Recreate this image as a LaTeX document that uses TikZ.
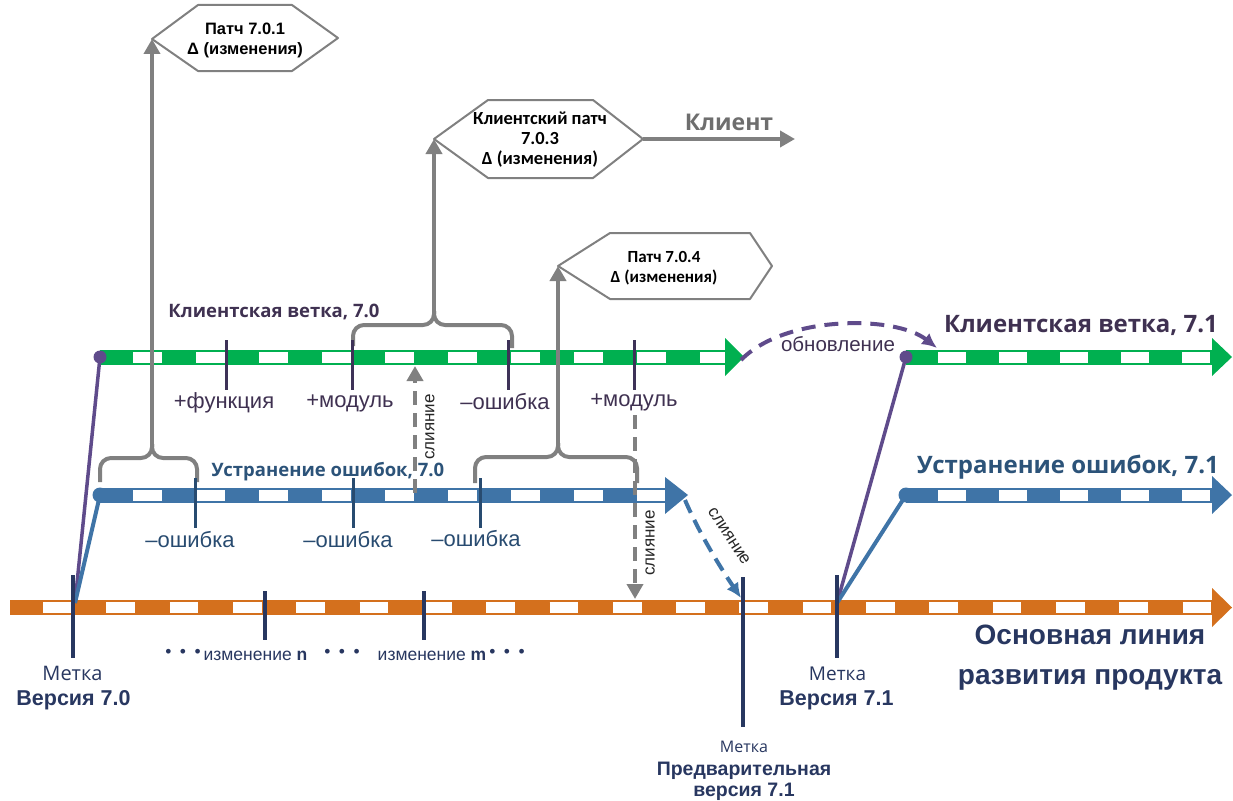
\documentclass[tikz,border=0pt]{standalone}
\usepackage{fontspec}
\setmainfont{Liberation Sans}
\newfontfamily\osans{Open Sans}
\newfontfamily\carl{Carlito}
\usetikzlibrary{arrows.meta}
\definecolor{cgreen}{HTML}{00B050}
\definecolor{cblue}{HTML}{3F74A7}
\definecolor{corange}{HTML}{D4701D}
\definecolor{cpurple}{HTML}{5F4B8B}
\definecolor{cpurpletxt}{HTML}{3F3151}
\definecolor{cbluetxt}{HTML}{2C5379}
\definecolor{cnavy}{HTML}{283760}
\definecolor{cgray}{HTML}{808080}
\definecolor{cgraytxt}{HTML}{6E6E6E}
\definecolor{ctickp}{HTML}{3E3258}
\definecolor{ctickb}{HTML}{284B70}
\newcommand\fsz[2]{\fontsize{#1}{#2}\selectfont}
% band: color, start, end, white on, white off, phase
\newcommand\tlband[6]{%
  \draw[#1, line width=15pt] (#2) -- (#3);
  \draw[white, line width=11pt, dash pattern=on #4pt off #5pt, dash phase=#6pt] (#2) -- (#3);}
\begin{document}
\begin{tikzpicture}[x=1pt,y=-1pt,line join=round,
  brace/.style={cgray, line width=4pt, rounded corners=11pt},
  stemarrow/.style={cgray, line width=4pt, -{Triangle[length=15pt,width=16pt]}},
  mergearrow/.style={cgray, line width=4pt, dash pattern=on 14pt off 8pt, -{Triangle[length=15pt,width=16pt]}},
  hexline/.style={cgray, line width=2pt, fill=white},
  hextext/.style={align=center, inner sep=0pt},
  ptick/.style={ctickp, line width=3pt},
  btick/.style={ctickb, line width=3pt},
  mtick/.style={cnavy, line width=3.5pt},
  plabel/.style={text=cpurpletxt, font=\fsz{22}{24}, inner sep=0pt},
  blabel/.style={text=ctickb, font=\fsz{22}{24}, inner sep=0pt},
  mergelabel/.style={text=black!85, font=\fsz{17}{19}, inner sep=0pt},
  title/.style={font=\osans\bfseries\fsz{18.5}{22}, inner sep=0pt},
  bigtitle/.style={font=\osans\bfseries\fsz{24}{28}, inner sep=0pt},
  navytext/.style={text=cnavy, inner sep=0pt, align=center}
]
\useasboundingbox (0,0) rectangle (1233,800);

% ---------- band coordinates ----------
\coordinate (m0) at (10,607.5);   \coordinate (m1) at (1212,607.5);
\coordinate (g0) at (100,357);    \coordinate (g1) at (725,357);
\coordinate (b0) at (100,495);    \coordinate (b1) at (665,495);
\coordinate (g70) at (906,357);   \coordinate (g71) at (1212,357);
\coordinate (b70) at (906,495);   \coordinate (b71) at (1212,495);

% ---------- bands ----------
\tlband{corange}{m0}{m1}{28.65}{34.65}{30.15}
\fill[corange] (1212,588) -- (1232,607.5) -- (1212,627) -- cycle;
\tlband{cgreen}{g0}{g1}{28.5}{34.5}{30}
\fill[cgreen] (725,338) -- (744,357) -- (725,376) -- cycle;
\tlband{cblue}{b0}{b1}{28.5}{34.5}{30}
\fill[cblue] (665,477) -- (688,495) -- (665,514) -- cycle;
\tlband{cgreen}{g70}{g71}{27.5}{33.5}{29}
\fill[cgreen] (1212,338) -- (1232,357) -- (1212,376) -- cycle;
\tlband{cblue}{b70}{b71}{27.5}{33.5}{29}
\fill[cblue] (1212,476) -- (1232,495) -- (1212,514) -- cycle;

% ---------- branch connectors ----------
\coordinate (v70) at (75,603);
\coordinate (v71) at (837,603);
\draw[cpurple, line width=3.5pt] (v70) -- (g0);
\draw[cblue, line width=4pt] (v70) -- (b0);
\draw[cpurple, line width=3.5pt] (v71) -- (g70);
\draw[cblue, line width=4pt] (v71) -- (b70);
\fill[cpurple] (g0) circle (6.5pt);
\fill[cpurple] (g70) circle (6.5pt);
\fill[cblue] (b0) circle (7.5pt);
\fill[cblue] (b70) circle (7.5pt);

% ---------- hexagons ----------
\coordinate (h1L) at (152,39);
\coordinate (h2L) at (434,139);
\coordinate (h2R) at (643,139);
\coordinate (h3L) at (558,266);

% braces and stems
\draw[brace] (100,482) |- (152,458) -- (152,444);
\draw[brace] (197,482) |- (152,458) -- (152,444);
\draw[stemarrow] (152,446) -- (h1L);
\draw[brace] (353,346) |- (434,325) -- (434,311);
\draw[brace] (512,348) |- (434,325) -- (434,311);
\draw[stemarrow] (434,313) -- (h2L);
\draw[brace] (475,483) |- (558,457) -- (558,443);
\draw[brace] (637,483) |- (558,457) -- (558,443);
\draw[stemarrow] (558,445) -- (h3L);

\draw[hexline] (h1L) -- (198,5) -- (292,5) -- (338,38) -- (292,71) -- (198,71) -- cycle;
\node[hextext, font=\bfseries\fsz{16.5}{20}] (h1) at (245,40) {Патч 7.0.1\\Δ (изменения)};

\draw[hexline] (h2L) -- (488,100) -- (593,100) -- (h2R) -- (593,178) -- (488,178) -- cycle;
\node[hextext, font=\carl\bfseries\fsz{18.5}{20}] (h2) at (540,140) {Клиентский патч\\7.0.3\\Δ (изменения)};

\draw[hexline] (h3L) -- (610,233) -- (750,233) -- (772,266) -- (750,299) -- (610,299) -- cycle;
\node[hextext, font=\carl\bfseries\fsz{17}{20}] (h3) at (664,268) {Патч 7.0.4\\Δ (изменения)};

% client arrow
\coordinate (cl) at (795,139);
\draw[stemarrow] (h2R) -- (cl);
\node[font=\osans\bfseries\fsz{23}{25}, text=cgraytxt, inner sep=0pt] (klient) at (729,122) {Клиент};

% ---------- ticks ----------
\draw[ptick] (226,340) -- (226,390);
\draw[ptick] (352,340) -- (352,390);
\draw[ptick] (508,340) -- (508,390);
\draw[ptick] (634,340) -- (634,390);
\draw[btick] (195,478) -- (195,528);
\draw[btick] (353,478) -- (353,528);
\draw[btick] (480,478) -- (480,528);

% ---------- merges ----------
\coordinate (mg1a) at (415,493); \coordinate (mg1b) at (415,366);
\draw[mergearrow] (mg1a) -- (mg1b);
\coordinate (mg2a) at (635,415); \coordinate (mg2b) at (635,599);
\draw[mergearrow] (mg2a) -- (mg2b);
\node[mergelabel, rotate=90] (sl1) at (430,427) {слияние};
\node[mergelabel, rotate=90] (sl2) at (650,543) {слияние};

\coordinate (btip) at (685,500); \coordinate (pre) at (741,598);
\draw[cblue, line width=4pt, dash pattern=on 14pt off 8pt, -{Latex[length=15pt,width=14pt]}] (btip) .. controls (700,535) and (722,570) .. (pre);
\node[mergelabel, rotate=-57] (sl3) at (729,536) {слияние};

\coordinate (gtip) at (741,360); \coordinate (upd) at (937,348);
\draw[cpurple, line width=4pt, dash pattern=on 14pt off 9pt, -{Latex[length=15pt,width=14pt]}] (gtip) .. controls (785,315) and (895,315) .. (upd);
\node[text=cpurpletxt, font=\fsz{20.5}{22}, inner sep=0pt] (obn) at (838,344) {обновление};

% ---------- main ticks ----------
\draw[mtick] (73,575) -- (73,658);
\draw[mtick] (265,591) -- (265,640);
\draw[mtick] (424,591) -- (424,640);
\draw[mtick] (743,577) -- (743,727);
\draw[mtick] (837,575) -- (837,658);

% ---------- labels ----------
\node[title, text=cpurpletxt] (kv70) at (274,312) {Клиентская ветка, 7.0};
\node[title, text=cbluetxt] (uo70) at (328,472) {Устранение ошибок, 7.0};
\node[bigtitle, text=cpurpletxt] (kv71) at (1081,325) {Клиентская ветка, 7.1};
\node[bigtitle, text=cbluetxt] (uo71) at (1068,467) {Устранение ошибок, 7.1};

\node[plabel] (f1) at (224,403) {+функция};
\node[plabel] (f2) at (350,403) {+модуль};
\node[plabel] (f3) at (505,402) {–ошибка};
\node[plabel] (f4) at (634,402) {+модуль};
\node[blabel] (e1) at (190,540) {–ошибка};
\node[blabel] (e2) at (348,540) {–ошибка};
\node[blabel] (e3) at (476,539) {–ошибка};

\node[navytext, font=\osans\fsz{20}{22}] (t70a) at (72.5,673) {Метка};
\node[navytext, font=\bfseries\fsz{21.5}{24}] (t70b) at (73.5,700) {Версия 7.0};
\node[navytext, font=\osans\fsz{19}{22}] (t71a) at (837.5,674) {Метка};
\node[navytext, font=\bfseries\fsz{21.5}{24}] (t71b) at (836.5,700) {Версия 7.1};
\node[navytext, font=\osans\fsz{16}{18}] (tpa) at (744,747) {Метка};
\node[navytext, font=\bfseries\fsz{19.5}{21}] (tpb) at (744,781) {Предварительная\\версия 7.1};
\node[navytext, font=\bfseries\fsz{28}{40}] (mainlbl) at (1090,658) {Основная линия\\развития продукта};

\node[navytext, font=\fsz{17.5}{20}] (d1) at (183,653) {•\hspace{8.5pt}•\hspace{8.5pt}•};
\node[navytext, font=\fsz{17.5}{20}] (chn) at (255.5,656) {изменение \textbf{n}};
\node[navytext, font=\fsz{17.5}{20}] (d2) at (342,653) {•\hspace{8.5pt}•\hspace{8.5pt}•};
\node[navytext, font=\fsz{17.5}{20}] (chm) at (432,656) {изменение \textbf{m}};
\node[navytext, font=\fsz{17.5}{20}] (d3) at (507,653) {•\hspace{8.5pt}•\hspace{8.5pt}•};
\end{tikzpicture}
\end{document}
